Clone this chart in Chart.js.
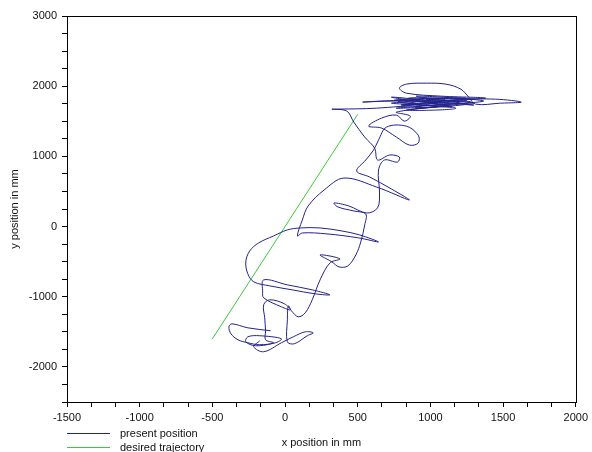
<!DOCTYPE html>
<html>
<head>
<meta charset="utf-8">
<script src="https://cdn.jsdelivr.net/npm/chart.js@4.4.0/dist/chart.umd.min.js"></script>
<style>
body { margin: 0; background: #fff; }
#wrap { position: relative; width: 592px; height: 452px; }
#legende { position: absolute; left: 67px; top: 426px; font: 11px "Liberation Sans", Arial, sans-serif; color: #111; }
.item { position: relative; height: 14px; line-height: 14px; padding-left: 53px; white-space: nowrap; }
.trait { position: absolute; left: 0; top: 7px; width: 43px; height: 1px; }
</style>
</head>
<body>
<div id="wrap">
  <canvas id="graphique" width="592" height="452"></canvas>
  <div id="legende">
    <div class="item"><span class="trait" style="background:#22228c"></span>present position</div>
    <div class="item"><span class="trait" style="background:#3cc83c"></span>desired trajectory</div>
  </div>
</div>
<script>
// position mesuree (mm)
const xPresent = [-100, -256, -365, -386, -372, -324, -256, -174, -65, -25, -174, -256, -270, -202, -79, -134, -134,
  -140, -147, -106, -4, 37, -25, -147, -154, -147, 16, 187, 309, 207, 50, -106, -215,
  -256, -270, -243, -181, -79, 16, 105, 241, 391, 514, 643, 507, 289, 119, 85,
  119, 159, 269, 405, 630, 855, 732, 582, 493, 555, 609, 643, 698,
  834, 916, 916, 855, 766, 664, 575, 664, 766, 821, 862, 766,
  1141, 752, 1243, 800, 1366, 902, 1298, 732, 1175, 834, 1277, 971, 1448, 1625, 1482, 1311,
  1264, 1209, 1107, 971, 834, 787, 834, 1073, 1380, 1039, 732, 1073, 766,
  1200, 800, 1250, 850, 1150, 780, 1100, 900, 1300, 880,
  534, 814, 902, 630, 357, 323,
  425, 473, 548, 616, 637, 718, 787, 773, 684, 643, 650, 636, 562,
  439, 337, 364, 473, 555, 548, 521, 487, 432, 371, 323, 241, 378, 309,
  241, 187, 139, 91, 44, 23, 16, 16, 64, 153, 194, 139, 57, -25, -147, -215, -174];
const yPresent = [-1485, -1443, -1386, -1428, -1528, -1613, -1656, -1684, -1656, -1599, -1556, -1571, -1642, -1699, -1656, -1613, -1485,
  -1300, -1115, -1044, -1101, -1187, -1144, -1016, -930, -760, -831, -902, -973, -959, -902, -845, -788,
  -674, -504, -347, -233, -134, -48, -20, -20, -63, -120, -219, -162, -105, -91, -134,
  94, 293, 521, 691, 563, 378, 535, 706, 791, 948, 1090, 1232, 1417,
  1431, 1303, 1189, 1161, 1275, 1403, 1431, 1545, 1588, 1502, 1574, 1630,
  1744, 1801, 1830, 1716, 1787, 1858, 1730, 1844, 1687, 1659, 1773, 1815, 1815, 1773, 1758, 1744,
  1844, 1958, 2029, 2043, 2029, 1972, 1901, 1858, 1830, 1787, 1758, 1716, 1687,
  1760, 1740, 1800, 1830, 1700, 1780, 1815, 1690, 1760, 1800,
  1773, 1787, 1744, 1687, 1673, 1673,
  1645, 1488, 1275, 1118, 948, 1019, 990, 919, 948, 805, 478, 265, 193,
  293, 336, 279, 222, 179, 23, -219, -404, -561, -575, -504, -404, -461, -518,
  -760, -1044, -1229, -1286, -1201, -1130, -1329, -1642, -1670, -1556, -1514, -1500, -1571, -1656, -1784, -1713, -1628];

// trajectoire voulue
const xDesired = [-500, 500];
const yDesired = [-1600, 1600];

// graduations
const xLabels = [-1500, -1000, -500, 0, 500, 1000, 1500, 2000];
const yLabels = [-2000, -1000, 0, 1000, 2000, 3000];

const police = { family: '"Liberation Sans", Arial, sans-serif', size: 11 };

function toPoints(xs, ys) {
  let pts = [];
  for (let i = 0; i < xs.length; i++) {
    pts.push({ x: xs[i], y: ys[i] });
  }
  return pts;
}

function labelSi(liste) {
  return function (value) {
    let v = Math.round(value);
    if (Math.abs(value - v) < 0.01 && liste.includes(v)) return String(v);
    return '';
  };
}

const cadre = {
  id: 'cadre',
  afterDatasetsDraw(chart) {
    const { ctx, chartArea: a } = chart;
    ctx.save();
    ctx.strokeStyle = '#000';
    ctx.lineWidth = 1;
    ctx.strokeRect(Math.round(a.left) + 0.5, Math.round(a.top) + 0.5,
      Math.round(a.right - a.left), Math.round(a.bottom - a.top));
    ctx.restore();
  }
};

const ctx = document.getElementById('graphique').getContext('2d');
const myChart = new Chart(ctx, {
  type: 'scatter',
  data: {
    datasets: [{
      label: 'present position',
      data: toPoints(xPresent, yPresent),
      showLine: true,
      borderColor: '#22228c',
      borderWidth: 1,
      pointRadius: 0,
      tension: 0.35
    }, {
      label: 'desired trajectory',
      data: toPoints(xDesired, yDesired),
      showLine: true,
      borderColor: '#3cc83c',
      borderWidth: 1,
      pointRadius: 0
    }]
  },
  options: {
    responsive: false,
    animation: false,
    devicePixelRatio: 1,
    layout: { padding: { top: 16, right: 11, bottom: 0, left: 0 } },
    plugins: { legend: { display: false }, tooltip: { enabled: false } },
    scales: {
      x: {
        type: 'linear',
        min: -1500,
        max: 2000,
        afterBuildTicks: function (scale) {
          let t = [];
          for (let k = 0; k <= 21; k++) t.push({ value: -1500 + k * 500 / 3 });
          scale.ticks = t;
        },
        afterFit: function (scale) { scale.height = 50; },
        ticks: { autoSkip: false, maxRotation: 0, padding: 4, color: '#111', font: police, callback: labelSi(xLabels) },
        grid: { drawOnChartArea: false, drawTicks: true, tickLength: 5, color: '#000' },
        border: { display: true, color: '#000' },
        title: { display: true, text: 'x position in mm', color: '#111', font: police, padding: { top: 0, bottom: 2.4 } }
      },
      y: {
        type: 'linear',
        min: -2500,
        max: 3000,
        afterBuildTicks: function (scale) {
          let t = [];
          for (let v = -2500; v <= 3000; v += 250) t.push({ value: v });
          scale.ticks = t;
        },
        afterFit: function (scale) { scale.width = 67; },
        ticks: { autoSkip: false, padding: 5, color: '#111', font: police, callback: labelSi(yLabels) },
        grid: { drawOnChartArea: false, drawTicks: true, tickLength: 5, color: '#000' },
        border: { display: true, color: '#000' },
        title: { display: true, text: 'y position in mm', color: '#111', font: police, padding: { top: 8, bottom: 0 } }
      }
    }
  },
  plugins: [cadre]
});
</script>
</body>
</html>
